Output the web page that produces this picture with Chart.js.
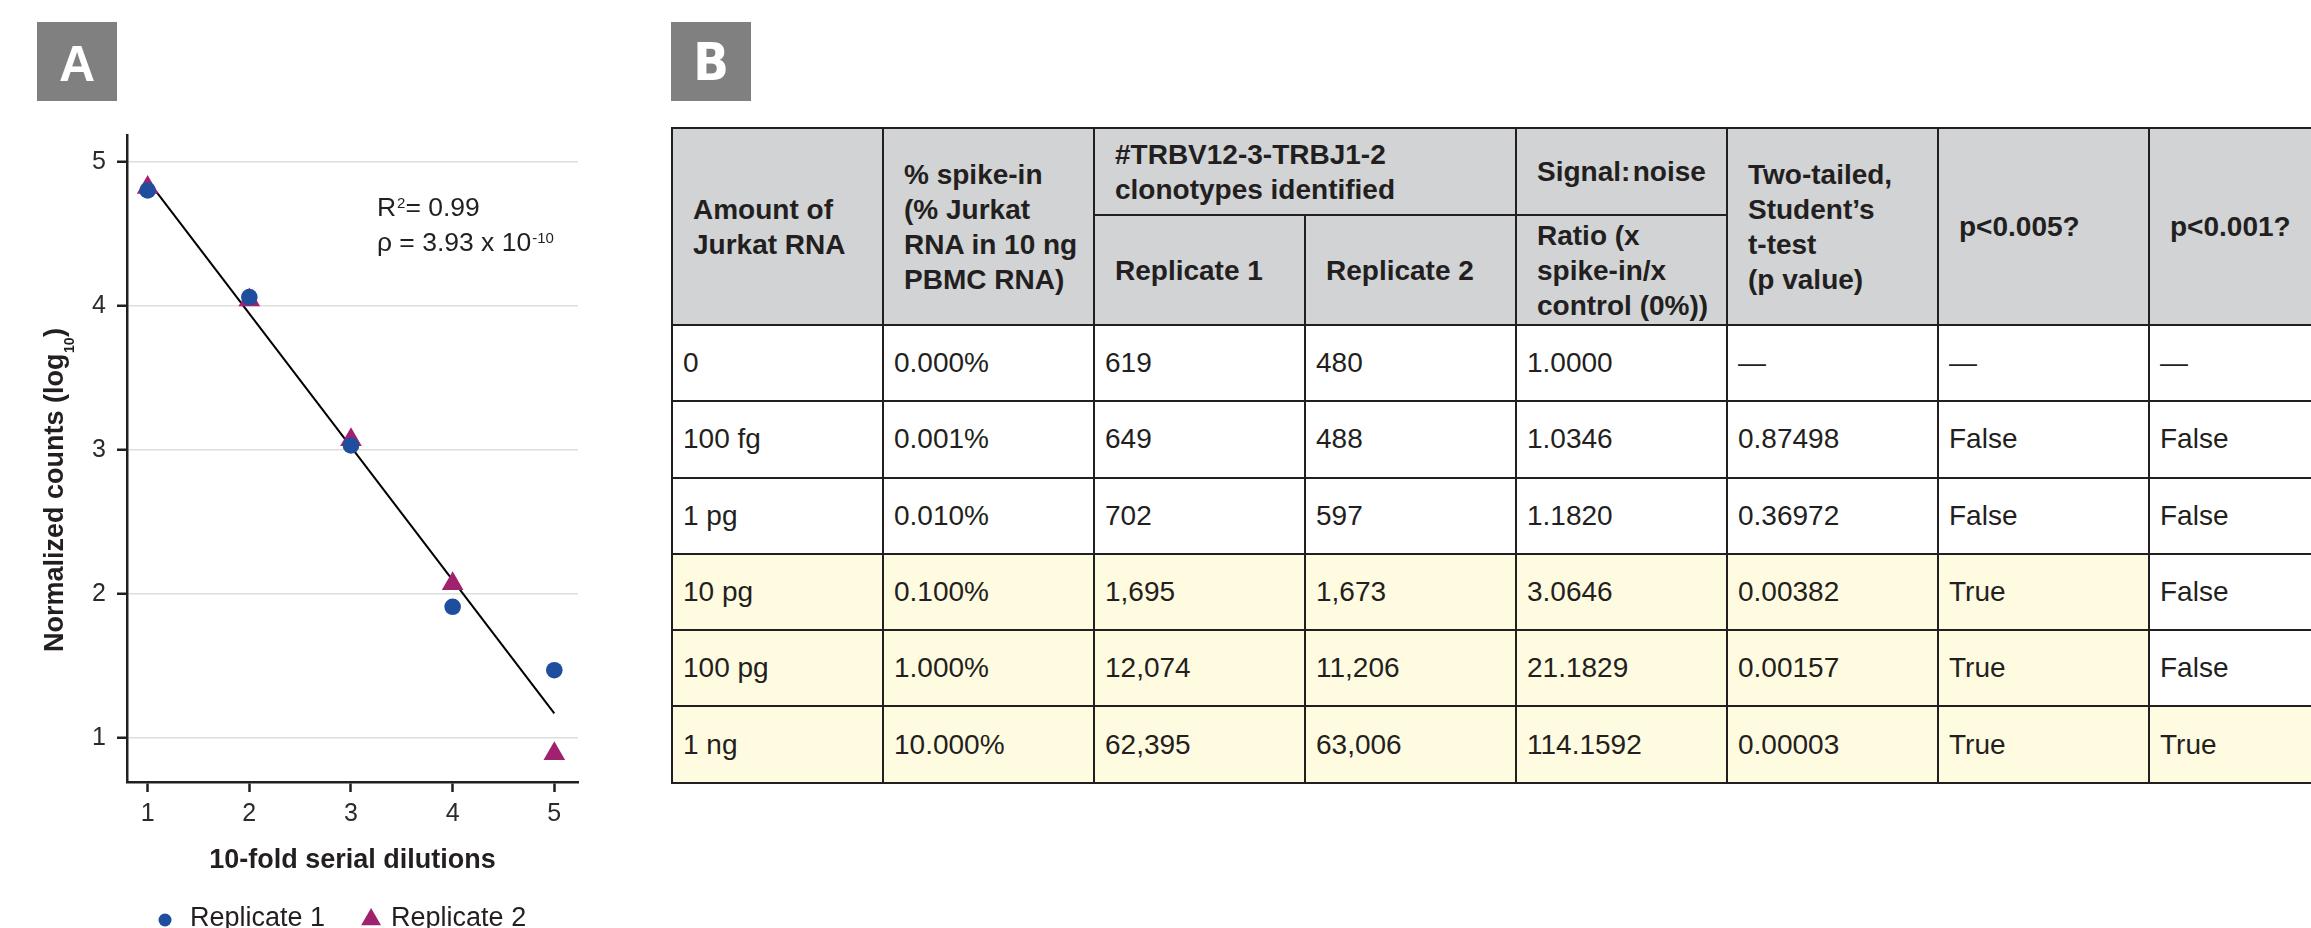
<!DOCTYPE html>
<html>
<head>
<meta charset="utf-8">
<script src="https://cdn.jsdelivr.net/npm/chart.js@4.4.1/dist/chart.umd.min.js"></script>
<style>
html, body { margin:0; padding:0; width:2311px; height:928px; overflow:hidden; background:#fff; }
.tag { position:absolute; top:22px; width:80px; height:79px; background:#808080; color:#fff; font-weight:bold; text-align:center; overflow:hidden; z-index:2; }
#tagA { left:37px; font-family:'Liberation Sans', Arial, sans-serif; font-size:50px; line-height:85px; }
#tagB { left:671px; font-family:'Liberation Sans Narrow', 'DejaVu Sans Condensed', sans-serif; font-size:52px; line-height:80px; }
#panelA { position:absolute; left:0; top:0; width:660px; height:928px; }
#tbl { position:absolute; left:671px; top:127px; border-collapse:collapse; table-layout:fixed; width:1688px;
  font-family:'Liberation Sans', Arial, sans-serif; font-size:28px; color:#231f20; }
#tbl th, #tbl td { border:2px solid #231f20; white-space:nowrap; text-align:left; vertical-align:middle; overflow:hidden; }
#tbl th { background:#d1d3d4; font-weight:bold; line-height:35px; padding:0 2px 0 20px; }
#tbl td { padding:0 2px 0 10px; background:#fff; }
#tbl td.hit { background:#fffbe0; }
#tbl tr.h1 { height:87px; }
#tbl tr.h2 { height:110px; }
#tbl tbody tr { height:76.3px; }
</style>
</head>
<body>
<div class="tag" id="tagA">A</div>
<div class="tag" id="tagB">B</div>
<div id="panelA"><canvas id="chartA"></canvas></div>
<table id="tbl"></table>
<script>
// panel A values (log10 normalized counts)
const dilutions = [1, 2, 3, 4, 5];
const replicate1 = [4.80, 4.06, 3.03, 1.91, 1.47];
const replicate2 = [4.82, 4.04, 3.07, 2.07, 0.89];
const fitDilutions = [1, 5];
const fitCounts = [4.87, 1.17];
const xTickValues = [1, 2, 3, 4, 5];
const yTickValues = [1, 2, 3, 4, 5];
const seriesNames = ['Replicate 1', 'Replicate 2'];
const r2Text = '0.99';
const pText = ['3.93 x 10', '-10'];

// panel B table
const amounts = ['0', '100 fg', '1 pg', '10 pg', '100 pg', '1 ng'];
const spikePct = ['0.000%', '0.001%', '0.010%', '0.100%', '1.000%', '10.000%'];
const rep1Counts = [619, 649, 702, 1695, 12074, 62395];
const rep2Counts = [480, 488, 597, 1673, 11206, 63006];
const ratios = ['1.0000', '1.0346', '1.1820', '3.0646', '21.1829', '114.1592'];
const pValues = ['—', '0.87498', '0.36972', '0.00382', '0.00157', '0.00003'];
const p005 = ['—', 'False', 'False', 'True', 'True', 'True'];
const p001 = ['—', 'False', 'False', 'False', 'False', 'True'];

const FONT = "'Liberation Sans', Arial, sans-serif";
const ink = '#231f20';
const blue = '#1f4e9f';
const magenta = '#a0226f';

// build table
var html = '<colgroup>' + '<col style="width:211px">'.repeat(8) + '</colgroup>';
html += '<thead><tr class="h1">' +
  '<th rowspan="2">Amount of<br>Jurkat RNA</th>' +
  '<th rowspan="2">% spike-in<br>(% Jurkat<br>RNA in 10 ng<br>PBMC RNA)</th>' +
  '<th colspan="2">#TRBV12-3-TRBJ1-2<br>clonotypes identified</th>' +
  '<th>Signal:\u200anoise</th>' +
  '<th rowspan="2">Two-tailed,<br>Student\u2019s<br>t-test<br>(p value)</th>' +
  '<th rowspan="2">p&lt;0.005?</th>' +
  '<th rowspan="2">p&lt;0.001?</th></tr>' +
  '<tr class="h2"><th>Replicate 1</th><th>Replicate 2</th><th>Ratio (x<br>spike-in/x<br>control (0%))</th></tr></thead><tbody>';
for (let i = 0; i < amounts.length; i++) {
  let hit = p005[i] == 'True' ? ' class="hit"' : '';
  let hit2 = p001[i] == 'True' ? ' class="hit"' : '';
  let cells = [amounts[i], spikePct[i], rep1Counts[i].toLocaleString('en-US'), rep2Counts[i].toLocaleString('en-US'),
    ratios[i], pValues[i], p005[i]];
  html += '<tr>';
  cells.forEach(c => { html += '<td' + hit + '>' + c + '</td>'; });
  html += '<td' + hit2 + '>' + p001[i] + '</td></tr>';
}
html += '</tbody>';
document.getElementById('tbl').innerHTML = html;

// y title, stats text and legend
const extras = {
  id: 'extras',
  afterDraw(chart) {
    const {ctx, chartArea: ca, scales: {x, y}} = chart;
    ctx.save();
    ctx.fillStyle = ink;
    ctx.textBaseline = 'alphabetic';

    // rotated y title with subscript
    ctx.save();
    ctx.translate(ca.left - 64, (ca.top + ca.bottom) / 2 + 32);
    ctx.rotate(-Math.PI / 2);
    ctx.font = 'bold 27px ' + FONT;
    const main = 'Normalized counts (log';
    const w1 = ctx.measureText(main).width, w3 = ctx.measureText(')').width;
    ctx.font = 'bold 14px ' + FONT;
    const w2 = ctx.measureText('10').width;
    let tx = -(w1 + w2 + w3) / 2;
    ctx.font = 'bold 27px ' + FONT;
    ctx.fillText(main, tx, 0);
    ctx.font = 'bold 14px ' + FONT;
    ctx.fillText('10', tx + w1 + 0.5, 10.5);
    ctx.font = 'bold 27px ' + FONT;
    ctx.fillText(')', tx + w1 + w2 + 1, 0);
    ctx.restore();

    // R2 and p
    let sx = x.getPixelForValue(3.255);
    let b1 = y.getPixelForValue(4.623), b2 = y.getPixelForValue(4.38);
    ctx.font = '26.5px ' + FONT;
    ctx.fillText('R', sx, b1);
    let cx = sx + ctx.measureText('R').width + 1;
    ctx.font = '15px ' + FONT;
    ctx.fillText('2', cx, b1 - 8);
    cx += ctx.measureText('2').width;
    ctx.font = '26.5px ' + FONT;
    ctx.fillText('= ' + r2Text, cx, b1);
    const line2 = '\u03c1 = ' + pText[0];
    ctx.fillText(line2, sx, b2);
    cx = sx + ctx.measureText(line2).width + 1;
    ctx.font = '15px ' + FONT;
    ctx.fillText(pText[1], cx, b2 - 8);

    // legend
    const ds = chart.data.datasets;
    const ly = 926;
    let lx = ca.left + 38;
    ctx.fillStyle = ds[0].backgroundColor;
    ctx.beginPath();
    ctx.arc(lx, 920, 6.5, 0, Math.PI * 2);
    ctx.fill();
    ctx.fillStyle = ink;
    ctx.font = '27px ' + FONT;
    ctx.fillText(seriesNames[0], lx + 25, ly);
    lx = lx + 25 + ctx.measureText(seriesNames[0]).width + 46;
    const r = 11.5, cy = 919.5;
    ctx.fillStyle = ds[1].backgroundColor;
    ctx.beginPath();
    ctx.moveTo(lx, cy - r);
    ctx.lineTo(lx + r * Math.sin(Math.PI / 3), cy + r / 2);
    ctx.lineTo(lx - r * Math.sin(Math.PI / 3), cy + r / 2);
    ctx.closePath();
    ctx.fill();
    ctx.fillStyle = ink;
    ctx.fillText(seriesNames[1], lx + 20, ly);
    ctx.restore();
  }
};

const toXY = (xs, ys) => xs.map((v, i) => ({x: v, y: ys[i]}));

new Chart(document.getElementById('chartA'), {
  type: 'scatter',
  data: {
    datasets: [
      {
        label: seriesNames[0],
        data: toXY(dilutions, replicate1),
        pointStyle: 'circle',
        pointRadius: 8.3,
        backgroundColor: blue,
        borderWidth: 0
      },
      {
        label: seriesNames[1],
        data: toXY(dilutions, replicate2),
        pointStyle: 'triangle',
        pointRadius: 12.5,
        backgroundColor: magenta,
        borderWidth: 0
      },
      {
        label: 'fit',
        data: toXY(fitDilutions, fitCounts),
        showLine: true,
        pointRadius: 0,
        borderColor: '#000',
        borderWidth: 2
      }
    ]
  },
  options: {
    responsive: true,
    maintainAspectRatio: false,
    animation: false,
    layout: { padding: { left: 0, top: 135, right: 82, bottom: 46 } },
    plugins: { legend: { display: false }, tooltip: { enabled: false } },
    scales: {
      x: {
        type: 'linear',
        min: 0.797,
        max: 5.233,
        afterBuildTicks: s => { s.ticks = xTickValues.map(v => ({value: v})); },
        afterFit: s => { s.height = 100; },
        grid: { drawOnChartArea: false, drawTicks: true, tickLength: 10, tickColor: ink, tickWidth: 2.5 },
        border: { display: true, color: ink, width: 2.5 },
        ticks: { color: '#2b2b2b', padding: 7, font: { family: FONT, size: 25 } },
        title: { display: true, text: '10-fold serial dilutions', color: ink,
          font: { family: FONT, size: 27, weight: 'bold' }, padding: { top: 0, bottom: 5 } }
      },
      y: {
        min: 0.694,
        max: 5.185,
        afterBuildTicks: s => { s.ticks = yTickValues.map(v => ({value: v})); },
        afterFit: s => { s.width = 127; },
        grid: { color: '#dedede', lineWidth: 1.5, tickLength: 10, tickColor: ink, tickWidth: 2.5 },
        border: { display: true, color: ink, width: 2.5 },
        ticks: { color: '#2b2b2b', padding: 11, font: { family: FONT, size: 25 } }
      }
    }
  },
  plugins: [extras]
});
</script>
</body>
</html>
